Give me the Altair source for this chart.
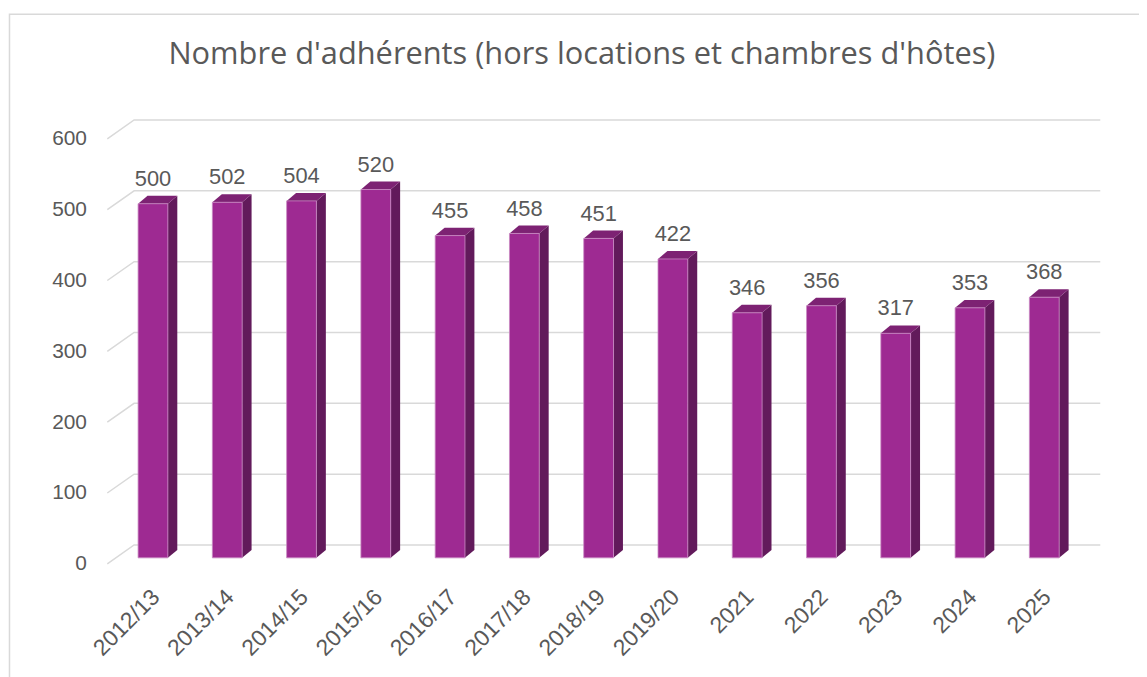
import altair as alt
import pandas as pd

categories = ["2012/13", "2013/14", "2014/15", "2015/16", "2016/17", "2017/18",
              "2018/19", "2019/20", "2021", "2022", "2023", "2024", "2025"]
values = [500, 502, 504, 520, 455, 458, 451, 422, 346, 356, 317, 353, 368]
y_ticks = [0, 100, 200, 300, 400, 500, 600]
title_text = "Nombre d'adhérents (hors locations et chambres d'hôtes)"

# geometry constants (in scale units)
W, H = 1000, 449.4
XMIN, XMAX = -0.615, 12.754
YMAX = 630
PX_X = W / (XMAX - XMIN)      # px per x unit
PX_Y = H / YMAX               # px per y unit
HW = 15 / PX_X                # half width of the front face
BDX = 9.5 / PX_X              # bar depth (x)
BDY = 8 / PX_Y                # bar depth (y)
EF = 6 / PX_Y                 # front-plane lift of bars
WDX = 27 / PX_X               # back wall depth (x)
WDY = 19 / PX_Y               # back wall depth (y)

front_rows, side_rows, top_rows, lab_rows = [], [], [], []
for i, (c, v) in enumerate(zip(categories, values)):
    vt = v + EF
    front_rows.append(dict(cat=c, x0=i - HW, x1=i + HW, y0=EF, y1=vt))
    side_rows += [dict(cat=c, x=i + HW, y=vt, y2=EF),
                  dict(cat=c, x=i + HW + BDX, y=vt + BDY, y2=EF + BDY)]
    top_rows += [dict(cat=c, x=i - HW, y=vt, y2=vt),
                 dict(cat=c, x=i - HW + BDX, y=vt + BDY, y2=vt),
                 dict(cat=c, x=i + HW, y=vt + BDY, y2=vt),
                 dict(cat=c, x=i + HW + BDX, y=vt + BDY, y2=vt + BDY)]
    lab_rows.append(dict(cat=c, x=i, y=vt, v=v, xl=i + 3 / PX_X))

grid_rows = []
for t in y_ticks:
    grid_rows += [dict(t=t, o=0, x=XMIN, y=t),
                  dict(t=t, o=1, x=XMIN + WDX, y=t + WDY),
                  dict(t=t, o=2, x=XMAX, y=t + WDY)]

front = pd.DataFrame(front_rows)
side = pd.DataFrame(side_rows)
top = pd.DataFrame(top_rows)
labs = pd.DataFrame(lab_rows)
grid = pd.DataFrame(grid_rows)

xs = alt.Scale(domain=[XMIN, XMAX], zero=False, nice=False)
ys = alt.Scale(domain=[0, YMAX], zero=False, nice=False)
GREY = "#595959"
FONT = "Liberation Sans"

border = alt.Chart(pd.DataFrame({"a": [0]})).mark_rect(
    filled=False, stroke="#d9d9d9", strokeWidth=1.5
).encode(x=alt.value(-98.5), x2=alt.value(1100), y=alt.value(-104), y2=alt.value(700))

grid_layer = alt.Chart(grid).mark_line(color="#d9d9d9", strokeWidth=1.5).encode(
    x=alt.X("x:Q", scale=xs, axis=None),
    y=alt.Y("y:Q", scale=ys, axis=alt.Axis(values=y_ticks, domain=False, ticks=False,
                                           grid=False, labelPadding=21, labelFontSize=21,
                                           labelColor=GREY, labelFont=FONT, title=None)),
    detail="t:N", order="o:Q",
)

side_layer = alt.Chart(side).mark_area(color="#621a5b", orient="vertical").encode(
    x=alt.X("x:Q", scale=xs), y=alt.Y("y:Q", scale=ys), y2="y2:Q", detail="cat:N",
)
top_layer = alt.Chart(top).mark_area(color="#7d2273", orient="vertical").encode(
    x=alt.X("x:Q", scale=xs), y=alt.Y("y:Q", scale=ys), y2="y2:Q", detail="cat:N",
)
front_layer = alt.Chart(front).mark_rect(
    color="#9e2a92", stroke="#c98ac2", strokeWidth=0.8
).encode(
    x=alt.X("x0:Q", scale=xs), x2="x1:Q", y=alt.Y("y0:Q", scale=ys), y2="y1:Q",
)
val_labels = alt.Chart(labs).mark_text(
    font=FONT, fontSize=22, color=GREY, baseline="alphabetic", dy=-18
).encode(x=alt.X("x:Q", scale=xs), y=alt.Y("y:Q", scale=ys), text="v:Q")

cat_labels = alt.Chart(labs).mark_text(
    font=FONT, fontSize=23, color=GREY, angle=315, align="right", baseline="middle"
).encode(x=alt.X("xl:Q", scale=xs), y=alt.value(H + 30), text="cat:N")

title = alt.Chart(pd.DataFrame({"t": [title_text]})).mark_text(
    font="Open Sans", fontSize=31, color=GREY, align="center", baseline="alphabetic"
).encode(x=alt.value(586 - 108), y=alt.value(62 - 116), text="t:N")

chart = alt.layer(
    border, grid_layer, side_layer, top_layer, front_layer, val_labels, cat_labels, title
).properties(
    width=W, height=H,
    autosize=alt.AutoSizeParams(type="none"),
    padding={"left": 100, "top": 108, "right": 39, "bottom": 112},
).configure(background="white", view=alt.ViewConfig(strokeWidth=0, stroke="transparent"))

chart.save("out.html", embed_options={"renderer": "svg", "actions": False})
